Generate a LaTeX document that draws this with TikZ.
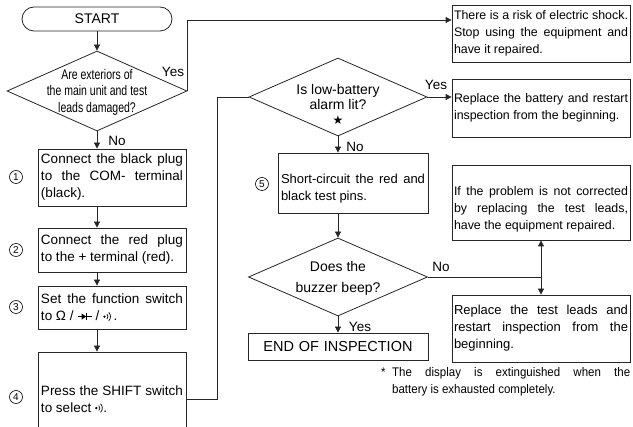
\documentclass[tikz,border=0pt]{standalone}
\usepackage{fontspec}
\setmainfont{Liberation Sans}
\newfontfamily\narrowfont{Liberation Sans}[FakeStretch=0.75]
\newfontfamily\notefont{Liberation Sans}[FakeStretch=0.92]
\newfontfamily\symfont{DejaVu Sans}
\usetikzlibrary{shapes.geometric, arrows.meta, positioning, calc}

\newcommand{\diodesym}{\tikz[x=1pt,y=1pt,baseline=-4pt,line width=0.6pt]{\draw (0,0) -- (14,0); \fill (4,-3) -- (8.5,0) -- (4,3) -- cycle; \draw (8.5,-3.2) -- (8.5,3.2);}}
\newcommand{\buzzsym}{\tikz[x=1pt,y=1pt,baseline=-4pt,line width=0.7pt]{\fill (0,0) circle (1.3pt); \draw (2.47,-2.47) arc (-45:45:3.5); \draw (4.24,-4.24) arc (-45:45:6);}}

\tikzset{
	flowbox/.style={draw=black!85, line width=0.8pt, rectangle, align=justify, inner xsep=3pt, text width=142pt, font=\fontsize{13.5}{17}\selectfont},
	notebox/.style={flowbox, inner xsep=2pt, text width=174pt, font=\fontsize{12.4}{17}\selectfont},
	decision/.style={draw=black!85, line width=0.8pt, diamond, inner sep=0pt},
	qtext/.style={align=center, inner sep=0pt},
	numcirc/.style={draw, circle, line width=0.6pt, inner sep=0pt, minimum size=13pt, font=\fontsize{10}{10}\selectfont},
	lbl/.style={font=\fontsize{13.5}{13.5}\selectfont, inner sep=1pt},
	conn/.style={line width=0.8pt, draw=black!85},
	flowarrow/.style={conn, -{Triangle[length=6pt,width=6pt]}}
}

\begin{document}
\begin{tikzpicture}[x=1pt, y=-1pt]
	\useasboundingbox (0,0) rectangle (633,427);
	\clip (0,0) rectangle (633,427);
	\node[flowbox, rounded corners=12pt, align=center, text width=144pt, minimum height=24pt, font=\fontsize{14}{14}\selectfont] (start) at (97,19) {START};
	\node[decision, minimum width=180pt, minimum height=80pt] (q1) at (97,91) {};
	\node[qtext, font=\narrowfont\fontsize{14}{16.5}\selectfont] (q1txt) at (97,92) {Are exteriors of\\the main unit and test\\leads damaged?};
	\node[flowbox, minimum height=57pt] (b1) at (112,177.5) {Connect the black plug\linebreak to the COM- terminal\linebreak (black).};
	\node[flowbox, minimum height=44pt] (b2) at (112,250) {Connect the red plug\linebreak to the + terminal (red).};
	\node[flowbox, minimum height=43pt] (b3) at (112,307.5) {Set the function switch\linebreak to Ω / \diodesym\ / \buzzsym\,.};
	\node[flowbox, minimum height=94pt] (b4) at (112,399) {Press the SHIFT switch\linebreak to select \buzzsym.};
	\node[numcirc] (n1) at (16,177) {1};
	\node[numcirc] (n2) at (16,250) {2};
	\node[numcirc] (n3) at (16,307) {3};
	\node[numcirc] (n4) at (16,397) {4};
	\node[notebox, minimum height=57pt] (r1) at (541,33.5) {There is a risk of electric shock.\linebreak Stop using the equipment and\linebreak have it repaired.};
	\node[decision, minimum width=178pt, minimum height=78pt] (q2) at (338,97) {};
	\node[qtext, font=\fontsize{14}{15}\selectfont] (q2txt) at (338,104) {Is low-battery\\alarm lit?\\{\symfont\fontsize{12}{12}\selectfont ★}};
	\node[notebox, minimum height=58pt] (r2) at (541,108) {Replace the battery and restart\linebreak inspection from the beginning.};
	\node[flowbox, text width=144pt, minimum height=60pt, font=\fontsize{13}{17}\selectfont] (b5) at (353,183) {\rule{0pt}{21pt}Short-circuit the red and\linebreak black test pins.};
	\node[numcirc] (n5) at (262,184) {5};
	\node[notebox, minimum height=75pt] (r3) at (541,202.5) {\rule{0pt}{22pt}If the problem is not corrected\linebreak by replacing the test leads,\linebreak have the equipment repaired.};
	\node[decision, minimum width=179pt, minimum height=78pt] (q3) at (338,277) {};
	\node[qtext, font=\fontsize{14}{21}\selectfont] (q3txt) at (338,278) {Does the\\buzzer beep?};
	\node[notebox, minimum height=67pt, font=\fontsize{13}{17}\selectfont] (r4) at (541,328.5) {Replace the test leads and\linebreak restart inspection from the\linebreak beginning.};
	\node[flowbox, align=center, text width=174pt, minimum height=27pt, font=\fontsize{14.5}{14.5}\selectfont] (done) at (338,346.5) {END OF INSPECTION};
	\node[text width=249pt, align=justify, inner sep=0pt, anchor=north west, font=\notefont\fontsize{12.5}{17}\selectfont] (fnote) at (381,367) {\makebox[11pt][l]{*}The display is extinguished when the\linebreak\hspace*{11pt}battery is exhausted completely.};
	\node[lbl] (yes1) at (173,72) {Yes};
	\node[lbl] (no1) at (117,141) {No};
	\node[lbl] (yes2) at (436,85) {Yes};
	\node[lbl] (no2) at (355,147) {No};
	\node[lbl] (no3) at (441,267) {No};
	\node[lbl] (yes3) at (360,327) {Yes};
	\draw[flowarrow] (start) -- (q1);
	\draw[flowarrow] (q1.east) |- ([yshift=13.5pt]r1.west);
	\draw[flowarrow] (q1.south) -- (q1.south |- b1.north);
	\draw[flowarrow] (b1.south -| q1) -- (b2.north -| q1);
	\draw[flowarrow] (b2.south -| q1) -- (b3.north -| q1);
	\draw[flowarrow] (b3.south -| q1) -- (b4.north -| q1);
	\draw[conn] (b4.east) -- ++(31,0) |- (q2.west);
	\draw[flowarrow] (q2.east) -- (q2.east -| r2.west);
	\draw[flowarrow] (q2.south) -- (q2.south |- b5.north);
	\draw[flowarrow] (b5.south -| q3) -- (q3.north);
	\draw[flowarrow] (q3.south) -- (done.north);
	\coordinate (jn) at (q3.east -| r4.north);
	\draw[conn] (q3.east) -- (jn);
	\draw[flowarrow] (jn) -- (r3.south);
	\draw[flowarrow] (jn) -- (r4.north);
\end{tikzpicture}
\end{document}
